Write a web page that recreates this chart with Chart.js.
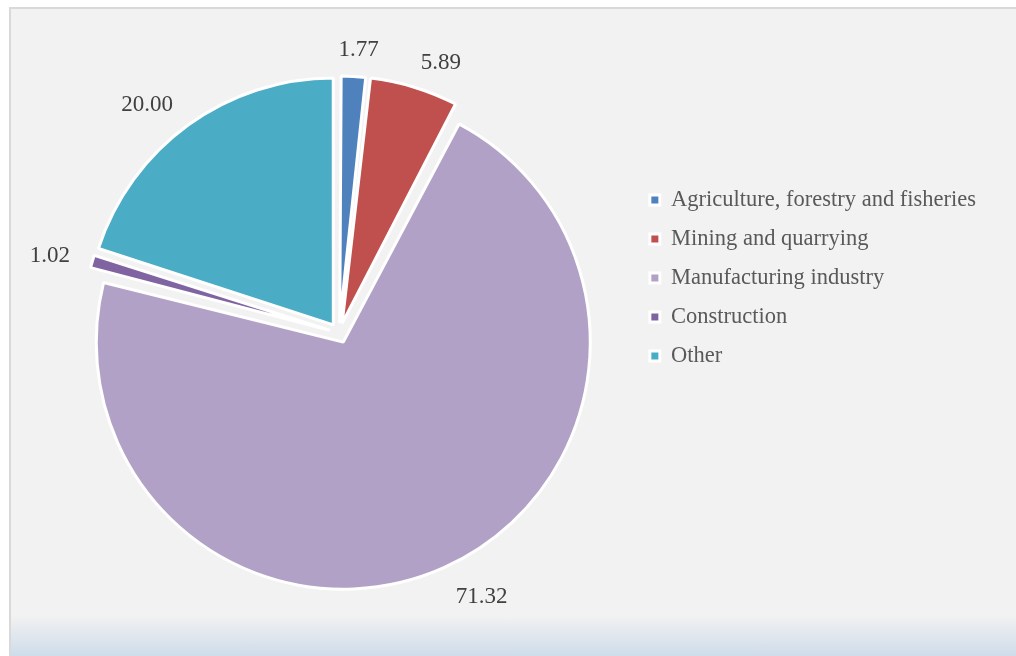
<!DOCTYPE html>
<html>
<head>
<meta charset="utf-8">
<script src="https://cdn.jsdelivr.net/npm/chart.js@4.4.1/dist/chart.umd.min.js"></script>
<style>
  body { margin: 0; background: #ffffff; }
  #frame {
    position: absolute; left: 9px; top: 7px; width: 1020px; height: 660px;
    border-left: 2px solid #d9d9d9; border-top: 2px solid #d9d9d9;
    background: linear-gradient(to bottom, #f2f2f2 0px, #f2f2f2 606px, #cddbe9 649px);
  }
  #myChart { position: absolute; left: 0; top: 0; }
</style>
</head>
<body>
<div id="frame"></div>
<canvas id="myChart" width="1016" height="656"></canvas>
<script>
const categories = [
  "Agriculture, forestry and fisheries",
  "Mining and quarrying",
  "Manufacturing industry",
  "Construction",
  "Other",
];
const shares = [1.77, 5.89, 71.32, 1.02, 20.0];
const colours = ["#4f81bd", "#c0504d", "#b2a1c7", "#8064a2", "#4bacc6"];

const pieRadius = 247;
const explode = 40; // chart.js moves each slice by offset / 4

// chart.js grows small slices by the offset, put them back to one radius
const sameRadius = {
  id: "sameRadius",
  beforeDatasetsDraw(chart) {
    chart.getDatasetMeta(0).data.forEach((arc) => {
      const fix = 1 - Math.sin(Math.min(Math.PI, arc.circumference));
      arc.outerRadius = pieRadius - (explode / 4) * fix;
    });
  },
};

// value labels outside the slices, pushed sideways like excel does
const sliceLabels = {
  id: "sliceLabels",
  afterDatasetsDraw(chart) {
    const c = chart.ctx;
    c.save();
    c.font = '23px "Liberation Serif"';
    c.fillStyle = "#404040";
    c.textAlign = "center";
    c.textBaseline = "middle";
    chart.getDatasetMeta(0).data.forEach((arc, i) => {
      const mid = (arc.startAngle + arc.endAngle) / 2;
      const dx = Math.cos(mid);
      const dy = Math.sin(mid);
      const text = shares[i].toFixed(2);
      const w = c.measureText(text).width;
      const d = pieRadius + 29;
      const side = Math.max(-1, Math.min(1, dx * 3));
      const x = arc.x + dx * d + side * (w / 2 + 4);
      const y = arc.y + dy * d + dy * 10 + 3;
      c.fillText(text, x, y);
    });
    c.restore();
  },
};

const ctx = document.getElementById("myChart");

const myPieChart = new Chart(ctx, {
  type: "pie",
  data: {
    labels: categories,
    datasets: [
      {
        data: shares,
        backgroundColor: colours,
        borderColor: "#ffffff",
        borderWidth: 3,
        offset: explode,
      },
    ],
  },
  options: {
    responsive: false,
    animation: false,
    events: [],
    radius: pieRadius,
    layout: {
      padding: { left: 45, right: 30, top: 20, bottom: 10 },
    },
    plugins: {
      tooltip: { enabled: false },
      legend: {
        position: "right",
        align: "start",
        title: {
          display: true,
          text: "",
          padding: { top: 137.8, bottom: 0 },
        },
        labels: {
          boxWidth: 10,
          boxHeight: 10,
          padding: 16.5,
          color: "#595959",
          font: { family: "Liberation Serif", size: 22.5 },
          generateLabels(chart) {
            const items = Chart.overrides.doughnut.plugins.legend.labels.generateLabels(chart);
            items.forEach((item) => {
              item.lineWidth = 3;
            });
            return items;
          },
        },
      },
    },
  },
  plugins: [sameRadius, sliceLabels],
});
</script>
</body>
</html>
